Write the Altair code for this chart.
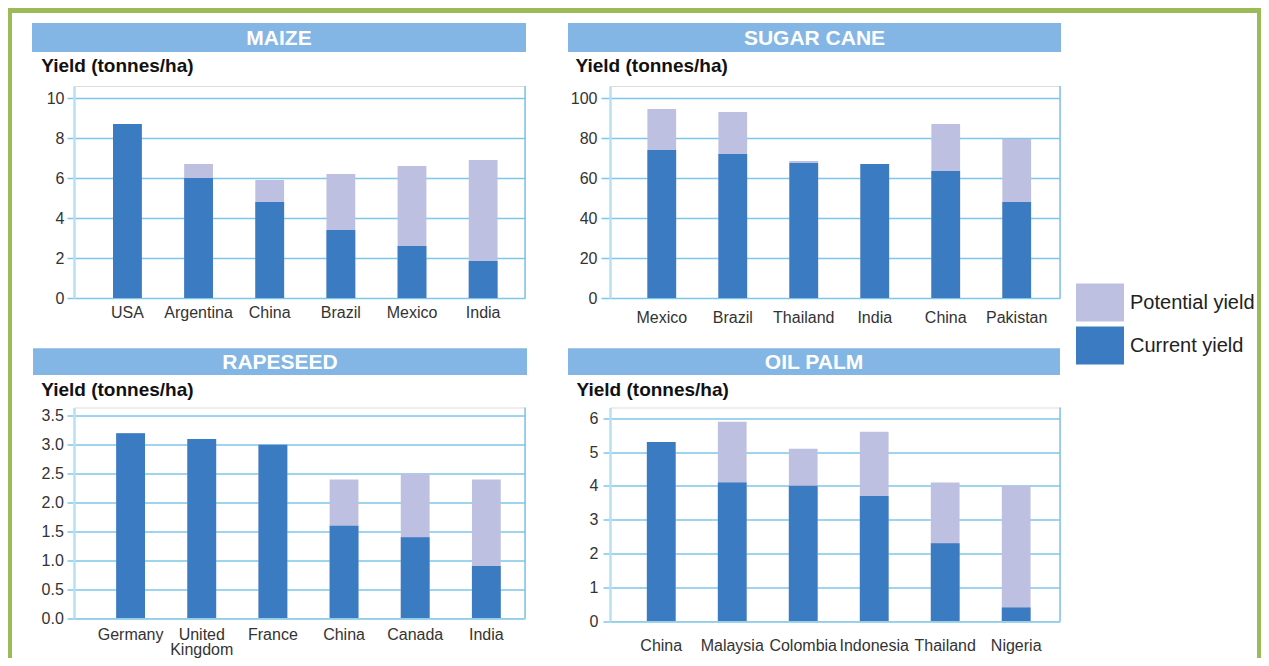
import altair as alt
import pandas as pd

# ---------------- data ----------------
series_names = ["Potential yield", "Current yield"]

maize_countries = ["USA", "Argentina", "China", "Brazil", "Mexico", "India"]
maize_current = [8.7, 6.0, 4.8, 3.4, 2.6, 1.85]
maize_potential = [8.7, 6.7, 5.9, 6.2, 6.6, 6.9]

sugar_countries = ["Mexico", "Brazil", "Thailand", "India", "China", "Pakistan"]
sugar_current = [74, 72, 67.5, 67, 63.5, 48]
sugar_potential = [94.5, 93, 68.5, 67, 87, 79.5]

rape_countries = ["Germany", "United Kingdom", "France", "China", "Canada", "India"]
rape_current = [3.2, 3.1, 3.0, 1.6, 1.4, 0.9]
rape_potential = [3.2, 3.1, 3.0, 2.4, 2.5, 2.4]

palm_countries = ["China", "Malaysia", "Colombia", "Indonesia", "Thailand", "Nigeria"]
palm_current = [5.3, 4.1, 4.0, 3.7, 2.3, 0.4]
palm_potential = [5.3, 5.9, 5.1, 5.6, 4.1, 4.0]

maize_ticks = [0, 2, 4, 6, 8, 10]
sugar_ticks = [0, 20, 40, 60, 80, 100]
rape_ticks = [0, 0.5, 1.0, 1.5, 2.0, 2.5, 3.0, 3.5]
palm_ticks = [0, 1, 2, 3, 4, 5, 6]

y_title = "Yield (tonnes/ha)"

# ---------------- style ----------------
FONT = "Liberation Sans"
C_CUR = "#3b7bc1"
C_POT = "#bdc0e1"
C_TITLE = "#83b6e5"
C_GRID = "#7cc7ea"
C_DOMAIN = "#b8dff2"
C_GREEN = "#9bbb59"


def long_df(countries, current, potential):
    rows = []
    for c, p in zip(countries, potential):
        rows.append({"country": c, "series": series_names[0], "value": p, "rank": 0})
    for c, v in zip(countries, current):
        rows.append({"country": c, "series": series_names[1], "value": v, "rank": 1})
    return pd.DataFrame(rows)


one = pd.DataFrame({"t": [""]})


def panel(title, countries, current, potential, width, height, ymax, ticks,
          yfmt, band_align, tick_size, label_pad, tx, ty, xpad, bar_box,
          legend=False, extra=None, line_h=19):
    df = long_df(countries, current, potential)
    color_kw = dict(scale=alt.Scale(domain=series_names, range=[C_POT, C_CUR]))
    if legend:
        leg = alt.Legend(
            orient="none", legendX=1002, legendY=192.5, title=None,
            symbolType="M-1,-0.79H1V0.79H-1Z", symbolSize=2304,
            symbolStrokeWidth=0, symbolOpacity=1,
            labelFontSize=20, labelFont=FONT, labelColor="#222",
            labelOffset=6, rowPadding=0, padding=0,
        )
        color = alt.Color("series:N", legend=leg, **color_kw)
    else:
        color = alt.Color("series:N", legend=None, **color_kw)

    bars = alt.Chart(df).mark_bar().encode(
        x=alt.X(
            "country:N", sort=countries,
            scale=alt.Scale(paddingInner=0.595, paddingOuter=0.467, align=band_align),
            axis=alt.Axis(
                title=None, labelAngle=0, ticks=False, tickSize=0, domain=False,
                labelPadding=xpad, labelFontSize=16, labelFont=FONT,
                labelColor="#333", labelLineHeight=line_h,
                labelExpr="datum.label == 'United Kingdom' ? ['United', 'Kingdom'] : datum.label",
            ),
        ),
        y=alt.Y(
            "value:Q", stack=None,
            scale=alt.Scale(domain=[0, ymax], nice=False, zero=True),
            axis=alt.Axis(
                values=ticks, format=yfmt, grid=True, gridColor=C_GRID, gridWidth=1.5,
                tickColor=C_GRID, tickWidth=1.5, tickSize=tick_size,
                domainColor=C_DOMAIN, domainWidth=2.5,
                labelPadding=label_pad, labelFontSize=16, labelFont=FONT,
                labelColor="#333",
                title=y_title, titleAngle=0, titleAlign="left",
                titleBaseline="alphabetic", titleX=tx, titleY=ty,
                titleFontSize=19, titleFontWeight="bold", titleFont=FONT,
                titleColor="#111",
            ),
        ),
        color=color,
        order=alt.Order("rank:Q"),
    )

    right_line = alt.Chart(one).mark_rule(color=C_GRID, strokeWidth=1.5).encode(
        x=alt.value(width), y=alt.value(0), y2=alt.value(height)
    )
    x1, x2, y1, y2 = bar_box
    head_rect = alt.Chart(one).mark_rect(color=C_TITLE).encode(
        x=alt.value(x1), x2=alt.value(x2), y=alt.value(y1), y2=alt.value(y2)
    )
    head_text = alt.Chart(pd.DataFrame({"t": [title]})).mark_text(
        color="white", fontSize=21, fontWeight="bold", font=FONT,
        align="center", baseline="middle",
    ).encode(x=alt.value((x1 + x2) / 2), y=alt.value((y1 + y2) / 2 + 1), text="t:N")

    layers = [head_rect, head_text, bars, right_line]
    if extra:
        layers = extra + layers
    return alt.layer(*layers).properties(width=width, height=height)


# page border (left, top, right), positioned relative to the first panel
border = [
    alt.Chart(one).mark_rule(color=C_GREEN, strokeWidth=4).encode(
        x=alt.value(-64), y=alt.value(-78), y2=alt.value(572)),
    alt.Chart(one).mark_rule(color=C_GREEN, strokeWidth=5).encode(
        x=alt.value(-66), x2=alt.value(1187), y=alt.value(-75.5)),
    alt.Chart(one).mark_rule(color=C_GREEN, strokeWidth=4).encode(
        x=alt.value(1185), y=alt.value(-78), y2=alt.value(572)),
]

maize = panel("MAIZE", maize_countries, maize_current, maize_potential,
              451, 212, 10.6, maize_ticks, "d", 0.587, 7, 3, -33.3, -14.3, 6.4,
              (-42, 452, -63, -34), legend=True, extra=border)
sugar = panel("SUGAR CANE", sugar_countries, sugar_current, sugar_potential,
              450, 212, 106, sugar_ticks, "d", 0.564, 9, 4, -35, -14.3, 11.4,
              (-42, 451, -63, -34))
rape = panel("RAPESEED", rape_countries, rape_current, rape_potential,
             451, 210.5, 3.647, rape_ticks, ".1f", 0.635, 7, 3.7, -33.3, -12.5, 8,
             (-41, 453, -59.2, -32.5), line_h=15)
palm = panel("OIL PALM", palm_countries, palm_current, palm_potential,
             450, 213.5, 6.32, palm_ticks, "d", 0.556, 7, 5, -34, -12.5, 16,
             (-42, 450, -59.2, -32.5))

chart = alt.concat(
    maize, sugar, rape, palm, columns=2,
    spacing={"row": 109.5, "column": 85}, bounds="flush",
).resolve_scale(
    color="independent", x="independent", y="independent"
).resolve_legend(color="independent").properties(
    autosize=alt.AutoSizeParams(type="none"),
    padding={"left": 66, "top": 78, "right": 1187, "bottom": 572},
).configure_view(stroke="transparent").configure(font=FONT)

chart.save("out.html", embed_options={"renderer": "svg", "actions": False})
